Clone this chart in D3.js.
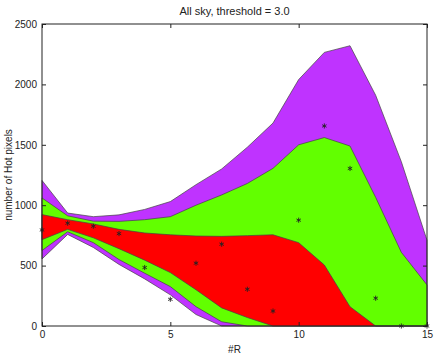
<!DOCTYPE html>
<html>
<head>
    <meta charset="utf-8">
    <style>
        body {
            margin: 0;
            background: #fff;
        }

        svg text {
            font-family: "Liberation Sans", Arial, sans-serif;
            fill: #222;
        }

        .axis .domain {
            display: none;
        }

        .axis .tick line {
            stroke: #222;
        }

        .axis .tick text {
            font-size: 10px;
        }
    </style>
</head>

<body>
    <svg width="436" height="358"></svg>
</body>

<script src="https://d3js.org/d3.v7.min.js"></script>

<script>
    // values
    let radius = [0, 1, 2, 3, 4, 5, 6, 7, 8, 9, 10, 11, 12, 13, 14, 15];

    let purpleUpper = [1205, 935, 905, 920, 965, 1030, 1170, 1300, 1480, 1680, 2040, 2265, 2320, 1910, 1360, 710];
    let purpleLower = [555, 758, 650, 510, 390, 258, 95, 0, 0, 0, 0, 0, 0, 0, 0, 0];

    let greenUpper = [1060, 912, 868, 866, 880, 905, 1000, 1085, 1180, 1305, 1500, 1560, 1490, 1065, 610, 340];
    let greenLower = [625, 780, 690, 550, 437, 326, 160, 35, 0, 0, 0, 0, 0, 0, 0, 0];

    let redUpper = [922, 880, 845, 800, 770, 755, 745, 742, 748, 755, 690, 505, 160, 0, 0, 0];
    let redLower = [715, 800, 730, 640, 545, 442, 300, 150, 70, 0, 0, 0, 0, 0, 0, 0];

    let hotPixels = [795, 851, 826, 765, 484, 221, 520, 677, 304, 124, 876, 1656, 1304, 230, 0, 0];

    let xTicks = [0, 5, 10, 15];
    let yTicks = [0, 500, 1000, 1500, 2000, 2500];

    let width = 436;
    let height = 358;
    let margin = { top: 24, right: 9, bottom: 32, left: 42 };

    let svg = d3.select("svg");

    let x = d3.scaleLinear()
        .domain([0, 15])
        .range([margin.left, width - margin.right]);

    let y = d3.scaleLinear()
        .domain([0, 2500])
        .range([height - margin.bottom, margin.top]);

    // bands: outer purple, then green, then red on top
    let bands = [
        { upper: purpleUpper, lower: purpleLower, color: "#bf33ff" },
        { upper: greenUpper, lower: greenLower, color: "#62ff00" },
        { upper: redUpper, lower: redLower, color: "#ff0000" }
    ];

    let area = d3.area()
        .x(d => x(d.r))
        .y0(d => y(d.lo))
        .y1(d => y(d.hi));

    svg.append("g")
        .selectAll("path")
        .data(bands)
        .join("path")
        .attr("d", b => area(radius.map((r, i) => ({ r: r, lo: b.lower[i], hi: b.upper[i] }))))
        .style("fill", b => b.color)
        .style("stroke", "#444")
        .style("stroke-width", "0.7px")
        .style("stroke-linejoin", "round");

    // star markers
    svg.append("g")
        .selectAll("path")
        .data(radius)
        .join("path")
        .attr("transform", (r, i) => `translate(${x(r)},${y(hotPixels[i])})`)
        .attr("d", d3.symbol().type(d3.symbolAsterisk).size(18))
        .style("fill", "none")
        .style("stroke", "#222")
        .style("stroke-width", "0.9px");

    // axes, ticks pointing inward like matlab
    svg.append("g")
        .attr("class", "axis")
        .attr("transform", `translate(0,${y(0)})`)
        .call(d3.axisBottom(x).tickValues(xTicks).tickSize(-4).tickPadding(5));

    svg.append("g")
        .attr("class", "axis")
        .attr("transform", `translate(0,${y(2500)})`)
        .call(d3.axisTop(x).tickValues(xTicks).tickSize(-4).tickFormat(""));

    svg.append("g")
        .attr("class", "axis")
        .attr("transform", `translate(${x(0)},0)`)
        .call(d3.axisLeft(y).tickValues(yTicks).tickSize(-4).tickPadding(5).tickFormat(d3.format("d")));

    svg.append("g")
        .attr("class", "axis")
        .attr("transform", `translate(${x(15)},0)`)
        .call(d3.axisRight(y).tickValues(yTicks).tickSize(-4).tickFormat(""));

    // plot frame
    svg.append("rect")
        .attr("x", x(0))
        .attr("y", y(2500))
        .attr("width", x(15) - x(0))
        .attr("height", y(0) - y(2500))
        .style("fill", "none")
        .style("stroke", "#222")
        .style("stroke-width", "1px");

    svg.append("text")
        .attr("x", (x(0) + x(15)) / 2)
        .attr("y", 15)
        .attr("text-anchor", "middle")
        .attr("font-size", "11px")
        .text("All sky, threshold = 3.0");

    svg.append("text")
        .attr("x", (x(0) + x(15)) / 2)
        .attr("y", 353)
        .attr("text-anchor", "middle")
        .attr("font-size", "10px")
        .text("#R");

    svg.append("text")
        .attr("transform", `translate(12,${(y(0) + y(2500)) / 2}) rotate(-90)`)
        .attr("text-anchor", "middle")
        .attr("font-size", "10px")
        .text("number of Hot pixels");
</script>
</html>
